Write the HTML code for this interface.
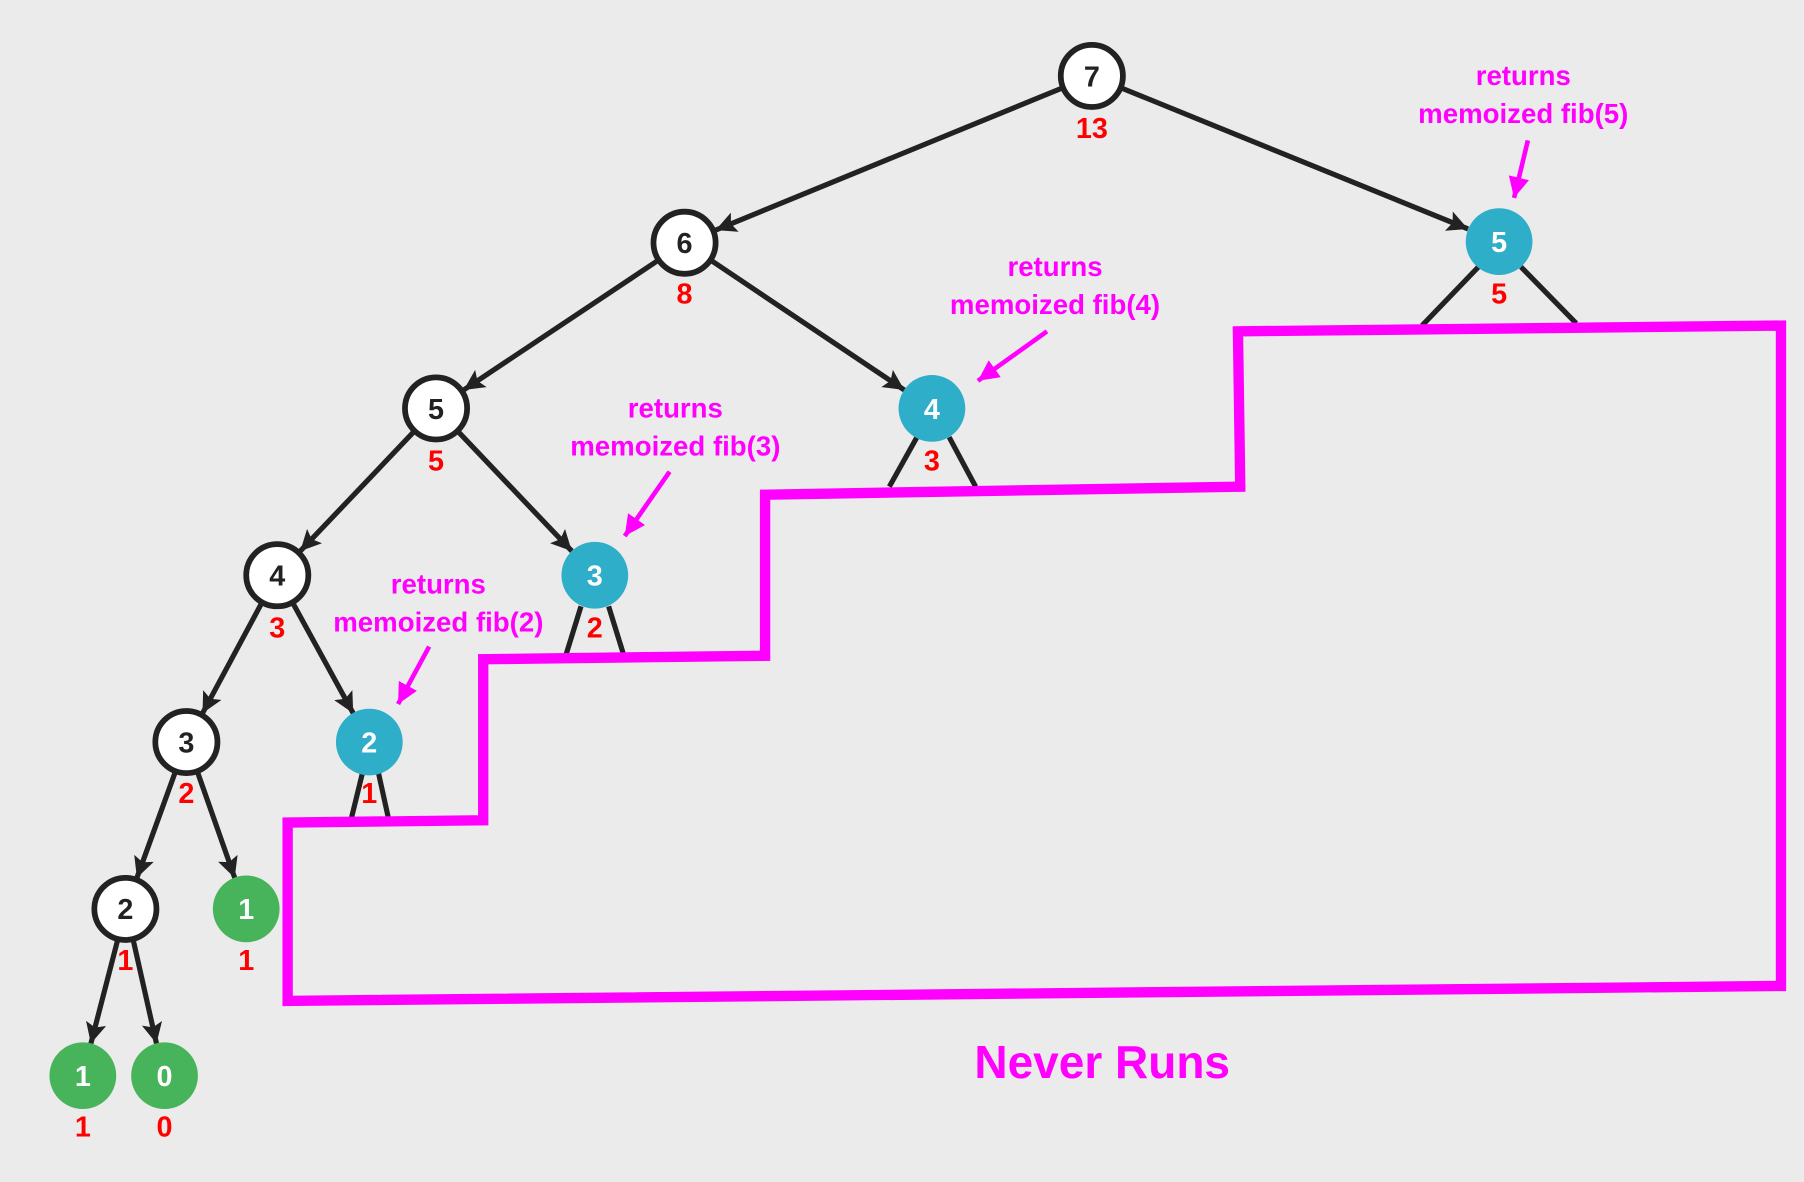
<!DOCTYPE html>
<html><head><meta charset="utf-8"><style>
html,body{margin:0;padding:0;background:#ebebeb;}
svg{display:block}
text{font-family:"Liberation Sans",sans-serif;font-weight:bold;}
</style></head><body>
<svg width="1804" height="1182" viewBox="0 0 1568 1027.4" preserveAspectRatio="none" xmlns="http://www.w3.org/2000/svg">
<defs>
<marker id="a" viewBox="0 0 10 10" refX="10" refY="5" markerWidth="18" markerHeight="18" markerUnits="userSpaceOnUse" orient="auto"><path d="M0,0 L10,5 L0,10 L2,5 z" fill="#222"/></marker>
<marker id="m" viewBox="0 0 10 10" refX="10" refY="5" markerWidth="18" markerHeight="18" markerUnits="userSpaceOnUse" orient="auto"><path d="M0,0 L10,5 L0,10 z" fill="#ff00ff"/></marker>
</defs>
<rect width="1568" height="1028" fill="#ebebeb"/>
<g stroke="#222" stroke-width="4.5" marker-end="url(#a)">
<line x1="922" y1="77" x2="622" y2="200"/>
<line x1="976" y1="77" x2="1276" y2="199"/>
<line x1="571" y1="227" x2="403" y2="339"/>
<line x1="619" y1="227" x2="786" y2="339"/>
<line x1="359" y1="376" x2="261" y2="479"/>
<line x1="399" y1="376" x2="497" y2="479"/>
<line x1="227" y1="525" x2="176" y2="620"/>
<line x1="255" y1="525" x2="307" y2="620"/>
<line x1="152" y1="672" x2="119" y2="763"/>
<line x1="172" y1="672" x2="204" y2="763"/>
<line x1="102" y1="818" x2="79" y2="907"/>
<line x1="116" y1="818" x2="136" y2="907"/>
</g>
<g stroke="#222" stroke-width="4.5">
<line x1="1285" y1="232" x2="1236" y2="283"/><line x1="1322" y1="232" x2="1370" y2="281"/>
<line x1="797" y1="380" x2="773" y2="423"/><line x1="825" y1="380" x2="848" y2="423"/>
<line x1="505" y1="527" x2="492" y2="569"/><line x1="529" y1="527" x2="542" y2="569"/>
<line x1="315" y1="672" x2="305" y2="713"/><line x1="329" y1="672" x2="338" y2="713"/>
</g>
<polygon points="250,715 420,713 420,573 665,570 665,430 1078,423 1076,288 1548,283 1548,857 250,870" fill="none" stroke="#ff00ff" stroke-width="9"/>
<g fill="#fff" stroke="#222" stroke-width="5">
<circle cx="949" cy="66" r="27"/><circle cx="595" cy="211" r="27"/><circle cx="379" cy="355" r="27"/>
<circle cx="241" cy="500" r="27"/><circle cx="162" cy="645" r="27"/><circle cx="109" cy="790" r="27"/>
</g>
<g fill="#2eaec8">
<circle cx="1303" cy="210" r="29"/><circle cx="810" cy="355" r="29"/><circle cx="517" cy="500" r="29"/><circle cx="321" cy="645" r="29"/>
</g>
<g fill="#47b35a">
<circle cx="214" cy="790" r="29"/><circle cx="72" cy="935" r="29"/><circle cx="143" cy="935" r="29"/>
</g>
<g font-size="25" text-anchor="middle" fill="#222">
<text x="949" y="75">7</text><text x="595" y="220">6</text><text x="379" y="364">5</text>
<text x="241" y="509">4</text><text x="162" y="654">3</text><text x="109" y="799">2</text>
</g>
<g font-size="25" text-anchor="middle" fill="#fff">
<text x="1303" y="219">5</text><text x="810" y="364">4</text><text x="517" y="509">3</text><text x="321" y="654">2</text>
<text x="214" y="799">1</text><text x="72" y="944">1</text><text x="143" y="944">0</text>
</g>
<g font-size="25" text-anchor="middle" fill="#ff0000">
<text x="949" y="120">13</text><text x="595" y="264">8</text><text x="379" y="409">5</text>
<text x="241" y="554">3</text><text x="162" y="698">2</text><text x="109" y="843">1</text>
<text x="1303" y="264">5</text><text x="810" y="409">3</text><text x="517" y="554">2</text><text x="321" y="698">1</text>
<text x="214" y="843">1</text><text x="72" y="988">1</text><text x="143" y="988">0</text>
</g>
<g font-size="24" text-anchor="middle" fill="#ff00ff">
<text x="1324" y="74">returns</text><text x="1324" y="107">memoized fib(5)</text>
<text x="917" y="240">returns</text><text x="917" y="273">memoized fib(4)</text>
<text x="587" y="363">returns</text><text x="587" y="396">memoized fib(3)</text>
<text x="381" y="516">returns</text><text x="381" y="549">memoized fib(2)</text>
<text x="958" y="937" font-size="40">Never Runs</text>
</g>
<g stroke="#ff00ff" stroke-width="4" marker-end="url(#m)">
<line x1="1328" y1="122" x2="1316" y2="172"/>
<line x1="910" y1="288" x2="850" y2="331"/>
<line x1="582" y1="410" x2="543" y2="466"/>
<line x1="373" y1="562" x2="346" y2="612"/>
</g>
</svg>
</body></html>
